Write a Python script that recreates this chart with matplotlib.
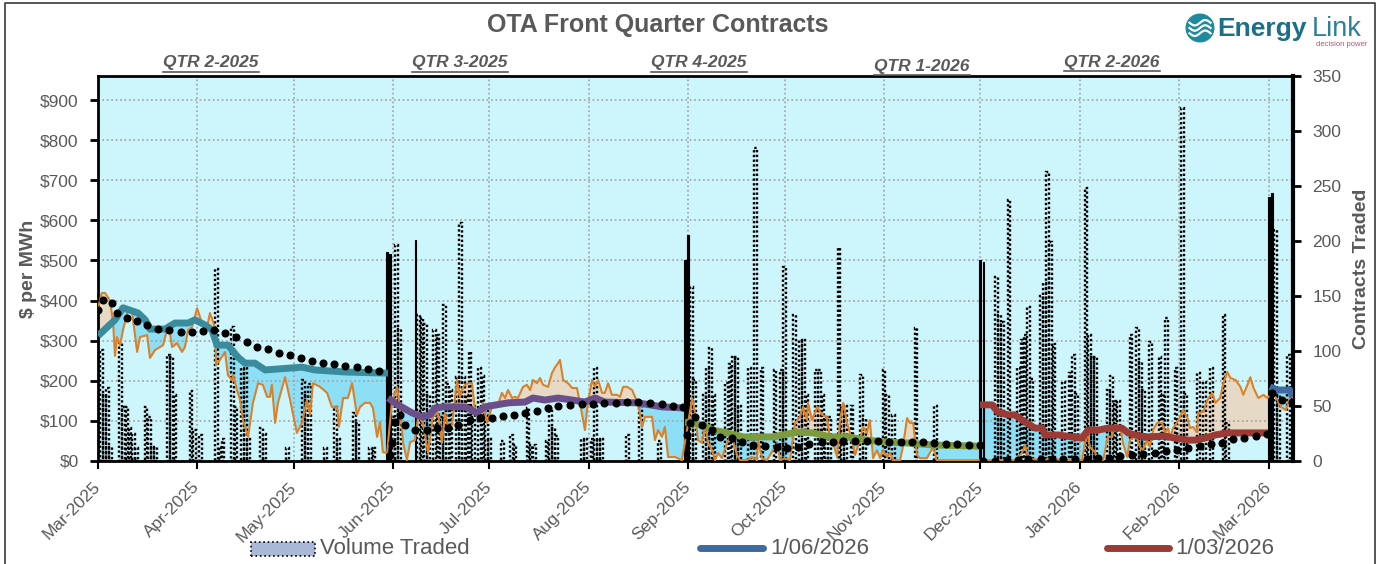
import numpy as np
import pandas as pd
import matplotlib
matplotlib.use('Agg')
import matplotlib.pyplot as plt
from matplotlib.patches import Rectangle, Circle
from matplotlib.lines import Line2D
from matplotlib import font_manager
from matplotlib.transforms import ScaledTranslation

W, H = 1381, 564
avail = {f.name for f in font_manager.fontManager.ttflist}
SANS = 'Liberation Sans' if 'Liberation Sans' in avail else 'DejaVu Sans'
NARROW = 'Liberation Sans Narrow' if 'Liberation Sans Narrow' in avail else SANS
GRAY = '#595959'

START = pd.Timestamp('2025-03-01')   # day 0 of all *_day arrays

# ---------------- data (day offsets from START, values) ----------------
# front-quarter settlement prices ($/MWh)
q2_25_day = [0, 5.3, 7.8, 12.5, 14.7, 16.2, 20.9, 24.0, 28.1, 30.2, 33.4, 35.5, 37.1, 40.5, 43.6, 45.8, 48.9, 52.1, 63.6, 67.6, 77.0, 90.4]
q2_25_val = [312, 352, 382, 369, 352, 329, 329, 344, 344, 352, 339, 327, 289, 289, 259, 244, 244, 227, 234, 227, 222, 219]
q3_25_day = [90.4, 93.5, 97.9, 101.0, 103.5, 105.0, 107.5, 114.4, 118.1, 120.6, 127.8, 133.1, 135.6, 139.3, 143.4, 147.8, 151.8, 154.9, 158.0, 168.3, 175.8, 183.0]
q3_25_val = [157, 140, 120, 110, 115, 132, 135, 135, 120, 135, 145, 147, 157, 152, 157, 152, 147, 157, 147, 145, 135, 132]
q4_25_day = [183.0, 185.5, 189.8, 191.7, 196.1, 201.1, 210.4, 213.5, 217.9, 222.9, 228.2, 233.5, 239.7, 246.0, 252.2, 260.3, 274.9]
q4_25_val = [97, 95, 85, 77, 70, 60, 60, 65, 72, 70, 60, 60, 52, 47, 45, 40, 37]
q1_26_day = [274.9, 278.7, 280.5, 283.7, 285.8, 289.0, 292.1, 294.3, 295.2, 299.3, 303.6, 306.7, 308.6, 311.7, 314.8, 319.2, 321.1, 323.3, 326.4, 332.6, 335.7, 339.8, 342.0, 345.1, 348.3, 352.2, 364.7]
q1_26_val = [140, 140, 122, 115, 115, 97, 82, 82, 65, 65, 60, 57, 77, 77, 82, 82, 70, 65, 60, 62, 57, 52, 52, 57, 65, 70, 70]
q2_26_day = [365.3, 367.5, 371.5, 372.5]
q2_26_val = [185, 177, 177, 160]

# daily spot price ($/MWh)
spot_day = [0.0, 1.2, 2.2, 3.7, 4.7, 5.3, 5.9, 6.9, 7.8, 9.4, 10.6, 12.2, 13.1, 15.3, 16.2, 17.8, 19.3, 20.3, 21.5, 22.4,
            23.1, 24.6, 26.2, 27.1, 28.1, 29.3, 30.9, 32.4, 34.0, 34.9, 36.5, 36.8, 38.0, 39.6, 40.5, 41.8, 42.1, 43.3, 44.3, 45.2,
            46.8, 48.3, 49.9, 51.4, 52.7, 53.6, 54.2, 55.2, 56.1, 58.3, 59.9, 62.0, 63.6, 65.1, 66.1, 67.0, 69.2, 71.4, 72.9, 74.5,
            75.1, 76.4, 77.9, 79.2, 80.7, 81.7, 83.2, 84.8, 85.7, 87.0, 87.9, 88.8, 90.1,
            91.6, 93.2, 94.1, 95.1, 96.3, 97.3, 98.8, 99.8, 101.3, 102.9, 104.4, 106.0, 107.2, 108.2, 109.1, 110.3, 111.9, 112.8,
            113.8, 115.3, 116.6, 117.5, 119.1, 120.0, 121.3, 122.8, 124.7, 125.9, 126.9, 127.8, 129.1, 130.0, 130.9, 132.5, 133.7,
            134.7, 135.6, 136.8, 137.8, 138.7, 140.3, 141.5, 142.5, 143.4, 144.0, 145.0, 146.5, 147.8, 149.3, 150.2, 151.8, 152.7,
            154.0, 154.9, 155.9, 157.1, 158.0, 159.0, 160.2, 161.8, 162.7, 163.7, 164.9, 166.5, 167.4, 168.3, 169.6, 170.5, 171.4,
            172.7, 173.6, 174.6, 175.8, 176.7, 177.7, 179.9, 182.0,
            183.6, 185.2, 186.1, 187.0, 188.3, 189.2, 190.1, 191.4, 192.3, 193.3, 194.5, 196.1, 197.0, 197.9, 199.2, 200.1, 202.3,
            203.9, 205.4, 205.7, 207.0, 208.5, 210.4, 211.7, 212.6, 214.1, 215.7, 217.3, 218.8, 219.8, 221.0, 221.3, 222.6, 224.2,
            225.7, 227.2, 228.2, 229.1, 230.4, 231.3, 232.3, 233.5, 234.4, 236.0, 237.5, 238.5, 239.7, 240.6, 241.6, 242.8, 243.8,
            244.7, 246.0, 246.9, 247.8, 250.0, 250.9, 252.2, 253.1, 254.1, 255.3, 256.2, 258.4, 260.3, 261.5, 264.7, 268.7, 272.8,
            275.6, 276.5, 285.8, 288.0, 289.0, 289.9, 294.3, 297.4, 300.5, 306.7, 308.3, 309.2, 310.8, 311.7, 313.3, 314.8, 316.1,
            317.0, 318.6, 319.5, 320.8, 321.7, 322.6, 323.9, 324.8, 325.7, 327.0, 327.9, 328.9, 330.1, 331.7, 332.6, 333.5, 334.2,
            335.1, 336.3, 337.3, 338.2, 339.5, 340.4, 341.3, 342.6, 342.9, 344.5, 345.8, 347.3, 348.3, 349.8, 350.8, 352.0, 353.0,
            354.6, 356.1, 357.0, 358.3, 359.2, 360.2, 361.7, 363.3, 364.5, 365.5, 366.5, 367.7, 368.7, 370.3, 371.8, 372.5]
spot_val = [381, 419, 419, 401, 347, 262, 309, 289, 327, 377, 372, 272, 309, 314, 257, 277, 284, 289, 327, 319,
            284, 294, 272, 284, 327, 334, 381, 344, 334, 369, 332, 239, 252, 272, 214, 202, 214, 177, 152, 102,
            60, 145, 194, 190, 160, 160, 190, 95, 145, 209, 152, 70, 95, 152, 115, 194, 185, 170, 135, 135,
            85, 157, 157, 194, 115, 135, 145, 145, 132, 60, 97, 22, 20,
            145, 185, 135, 45, 2, 47, 52, 110, 95, 20, 110, 120, 45, 120, 85, 85, 202, 160,
            185, 194, 194, 127, 120, 145, 95, 135, 140, 170, 157, 177, 157, 160, 157, 185, 190,
            177, 202, 194, 207, 190, 185, 219, 234, 244, 252, 202, 194, 182, 182, 145, 77, 145,
            202, 185, 202, 170, 170, 194, 165, 165, 160, 185, 185, 177, 160, 145, 85, 110, 110,
            110, 52, 77, 60, 85, 10, 10, 2,
            77, 157, 120, 52, 45, 95, 47, 27, 2, 20, 7, 45, 60, 52, 15, 2, 2,
            10, 2, 52, 7, 2, 27, 45, 2, 7, 2, 95, 110, 135, 102, 145, 102, 135,
            115, 110, 52, 45, 10, 102, 145, 95, 70, 15, 52, 85, 70, 102, 7, 27, 7,
            27, 10, 20, 2, 2, 35, 107, 95, 95, 15, 7, 7, 35, 2, 2, 2, 2,
            2, 2, 2, 20, 40, 7, 2, 7, 2, 2, 72, 35, 22, 2, 2, 60, 60,
            90, 85, 45, 10, 52, 60, 57, 35, 27, 52, 35, 77, 95, 95, 70, 82, 57,
            82, 95, 110, 127, 110, 82, 85, 72, 120, 122, 152, 170, 145, 157, 194, 222, 207,
            202, 185, 165, 190, 209, 182, 157, 165, 157, 165, 165, 152, 135, 127, 165, 157]

# running average of spot (dots)
trend_day = [0, 1.6, 4.4, 5.9, 9.0, 12.2, 15.3, 18.7, 22.1, 25.9, 29.3, 32.7, 36.2, 39.6, 43.0, 46.4, 49.6, 53.0, 56.4, 59.9,
             63.3, 66.7, 70.1, 73.6, 77.0, 80.7, 84.2, 87.6,
             91.0, 91.6, 92.6, 94.1, 95.7, 98.8, 102.6, 105.7, 109.1, 112.2, 116.0, 119.1, 122.8, 126.2, 129.7, 133.1, 136.8,
             140.3, 143.4, 147.1, 150.9, 154.3, 157.7, 161.5, 164.9, 168.3, 172.1, 175.8, 179.2, 182.4,
             183.6, 184.5, 186.1, 188.3, 191.4, 193.9, 197.6, 200.7, 204.2, 207.9, 211.7, 214.8, 218.2, 221.6, 225.7, 229.1,
             232.2, 236.0, 239.7, 243.1, 246.6, 250.3, 253.7, 257.2, 260.6, 264.3, 267.8, 271.5, 274.9,
             275.9, 279.6, 283.4, 286.8, 289.9, 293.9, 297.4, 300.8, 304.6, 308.3, 311.7, 315.1, 318.6, 322.3, 325.7, 329.5,
             332.9, 336.3, 339.8, 343.5, 346.9, 350.4, 353.8, 357.2, 361.0, 364.4,
             366.0, 369.1, 372.2]
trend_val = [377, 401, 394, 369, 357, 349, 339, 329, 327, 322, 322, 324, 327, 319, 309, 297, 284, 279, 269, 264,
             257, 249, 244, 242, 237, 234, 229, 224,
             15, 45, 97, 115, 90, 77, 77, 82, 82, 90, 102, 107, 107, 112, 115, 120, 125,
             132, 137, 140, 142, 142, 145, 145, 147, 147, 145, 142, 137, 135,
             65, 95, 110, 90, 77, 60, 57, 47, 40, 37, 35, 32, 35, 42, 47, 47,
             50, 50, 50, 50, 47, 47, 47, 47, 45, 42, 42, 40, 40,
             0, 0, 2, 2, 5, 5, 5, 5, 5, 5, 7, 7, 12, 15, 17, 20,
             25, 27, 32, 37, 42, 45, 55, 57, 62, 67,
             170, 152, 147]

# contracts traded per day
vol_day = [1, 2, 3, 4, 7, 8, 9, 10, 11, 12, 15, 16, 17, 18, 22, 23, 24, 29, 30, 32, 37, 38, 39, 42, 43, 45, 46, 47, 51, 52,
           59, 64, 65, 66, 71, 74, 75, 80, 81, 85, 86,
           92, 93, 94, 100, 101, 102, 103, 105, 106, 107, 108, 109, 110, 112, 113, 114, 115, 116, 117, 119, 120, 121, 122,
           126, 129, 130, 134, 135, 136, 140, 141, 142, 143, 151, 152, 154, 155, 156, 157, 165, 169, 175,
           185, 186, 189, 190, 191, 192, 196, 197, 198, 199, 200, 203, 205, 207, 211, 213, 214, 217, 219, 220, 221, 224, 225,
           226, 227, 228, 231, 232, 233, 235, 238, 239, 245, 246, 248, 255, 261,
           280, 281, 282, 284, 287, 288, 289, 290, 291, 294, 295, 296, 297, 298, 301, 303, 304, 305, 308, 309, 310, 311, 315,
           316, 317, 318, 322, 324, 325, 326, 328, 331, 332, 333, 336, 338, 339, 343, 345, 347, 351, 352,
           367, 368, 371]
vol_val = [101, 60, 66, 13, 107, 49, 49, 30, 25, 12, 49, 40, 13, 13, 96, 95, 60, 64, 28, 24, 175, 13, 20, 122, 49, 85, 85, 20, 30, 25,
           12, 74, 60, 70, 12, 49, 20, 44, 35, 12, 12,
           40, 196, 120, 133, 130, 125, 60, 119, 115, 40, 142, 70, 65, 76, 216, 76, 60, 99, 50, 85, 77, 50, 20,
           18, 24, 15, 48, 15, 15, 18, 48, 30, 23, 20, 20, 20, 85, 20, 20, 24, 52, 18,
           158, 74, 60, 85, 103, 60, 71, 88, 95, 95, 50, 85, 285, 85, 83, 83, 176, 133, 110, 110, 60, 83, 83,
           60, 40, 40, 194, 50, 50, 50, 78, 38, 83, 60, 42, 121, 50,
           167, 133, 126, 237, 85, 110, 115, 140, 75, 150, 162, 263, 199, 106, 72, 80, 96, 61, 248, 115, 95, 95, 65,
           77, 55, 55, 115, 121, 90, 65, 108, 95, 61, 130, 85, 321, 61, 80, 72, 85, 133, 35,
           210, 60, 96]
# first trading days of each new front quarter (solid bars)
first_day = [90, 91, 99, 183, 184, 275, 276, 365, 366]
first_val = [190, 188, 201, 183, 205, 183, 181, 240, 244]

quarters = ['QTR 2-2025', 'QTR 3-2025', 'QTR 4-2025', 'QTR 1-2026', 'QTR 2-2026']
legend_labels = ['Volume Traded', '1/06/2026', '1/03/2026']

# ---------------- figure ----------------
fig = plt.figure(figsize=(W / 100, H / 100), dpi=100)


def fx(x):
    return x / W


def fy(y):
    return 1 - y / H


# outer frame
fig.add_artist(Line2D([fx(5), fx(5), fx(1375), fx(1375)], [fy(600), fy(3), fy(3), fy(600)],
                      color='#3a3a3a', lw=1.2))

L, R, T, B = 98, 1293, 76, 461
ax = fig.add_axes([fx(L), fy(B), (R - L) / W, (B - T) / H])
ax.set_facecolor('#ccf5fc')
XMAX = 372.5
ax.set_xlim(0, XMAX)
ax.set_ylim(0, 960)

months = pd.date_range('2025-03-01', '2026-03-01', freq='MS')
mpos = [(m - START).days for m in months]
ax.set_xticks(mpos)
ax.set_xticklabels([m.strftime('%b-%Y') for m in months], rotation=45, ha='right', va='center',
                   rotation_mode='anchor', fontsize=12.5, color=GRAY, family=NARROW)
shift = ScaledTranslation(3 / 100, 0, fig.dpi_scale_trans)
for lab in ax.get_xticklabels():
    lab.set_transform(lab.get_transform() + shift)
ax.set_yticks(range(0, 1000, 100))
ax.set_yticklabels(['$%d' % v for v in range(0, 1000, 100)], fontsize=12.5, color=GRAY, family=SANS)
ax.tick_params(axis='x', length=6, width=1.5, pad=11, color='black')
ax.tick_params(axis='y', length=6, width=2, pad=8, color='black')
ax.grid(True, color='#a0a0a0', linestyle=':', linewidth=1.2)
for s in ax.spines.values():
    s.set_linewidth(2)
    s.set_color('black')
ax.spines['right'].set_visible(False)

segments = [(q2_25_day, q2_25_val, '#3a8c9c'), (q3_25_day, q3_25_val, '#6b4f8a'),
            (q4_25_day, q4_25_val, '#7c9a3e'), (q1_26_day, q1_26_val, '#9c3b36'),
            (q2_26_day, q2_26_val, '#3d6aa0')]
sd = np.array(spot_day, float)
sv = np.array(spot_val, float)
for d, v, c in segments:
    d = np.array(d, float)
    v = np.array(v, float)
    inside = sd[(sd >= d.min()) & (sd <= d.max())]
    xs = np.unique(np.concatenate([d, inside]))
    ti = np.interp(xs, d, v)
    si = np.interp(xs, sd, sv)
    ax.fill_between(xs, si, ti, where=ti >= si, interpolate=True, color='#8ddff5', lw=0, zorder=1)
    ax.fill_between(xs, si, ti, where=si > ti, interpolate=True, color='#e6dac6', lw=0, zorder=1)

ax.set_ylabel('$ per MWh', fontsize=14, fontweight='bold', color=GRAY, family=SANS, labelpad=2)

# volume on right axis
ax2 = ax.twinx()
ax2.set_ylim(0, 350)
ax2.bar(vol_day, vol_val, width=0.85, facecolor='none', edgecolor='black', linestyle=(0, (1, 1)),
        linewidth=1.7, zorder=2)
ax2.bar(first_day, first_val, width=0.55, facecolor='black', edgecolor='black', linewidth=0.8, zorder=2)
ax2.set_yticks(range(0, 400, 50))
ax2.set_yticklabels([str(v) for v in range(0, 400, 50)], fontsize=12.5, color=GRAY, family=SANS)
ax2.tick_params(axis='y', length=6, width=2, pad=8, color='black')
for k, s in ax2.spines.items():
    s.set_visible(k == 'right')
ax2.spines['right'].set_linewidth(3)
ax2.set_ylabel('Contracts Traded', fontsize=14, fontweight='bold', color=GRAY, family=SANS, labelpad=8)

# lines on top
ax3 = fig.add_axes([fx(L), fy(B), (R - L) / W, (B - T) / H], sharex=ax, sharey=ax)
ax3.axis('off')
ax3.patch.set_visible(False)
ax3.plot(spot_day, spot_val, color='#d9822b', lw=1.5, zorder=3)
for d, v, c in segments:
    ax3.plot(d, v, color=c, lw=5, solid_capstyle='butt', zorder=4)
ax3.plot(trend_day, trend_val, 'o', color='black', ms=4.8, zorder=5)
ax3.set_xlim(0, XMAX)
ax3.set_ylim(0, 960)

# title & quarter labels
fig.text(fx(658), fy(25), 'OTA Front Quarter Contracts', ha='center', va='center', fontsize=18,
         fontweight='bold', color=GRAY, family=SANS)
qpos = [(211, 63), (460, 63), (699, 63), (922, 66), (1112, 62)]
qtexts = []
for q, (x, y) in zip(quarters, qpos):
    qtexts.append(fig.text(fx(x), fy(y), q, ha='center', va='center', fontsize=12.5, fontweight='bold',
                           fontstyle='italic', color=GRAY, family=SANS))

# logo
lax = fig.add_axes([fx(1185), fy(43), 30 / W, 30 / H])
lax.set_xlim(-1, 1)
lax.set_ylim(-1, 1)
lax.set_aspect('equal')
lax.axis('off')
lax.add_patch(Circle((0, 0), 0.92, color='#1d8a9e'))
tt = np.linspace(-0.7, 0.7, 50)
for off in (0.35, 0.0, -0.35):
    lax.plot(tt, off + 0.18 * np.sin(tt * 4.5), color='white', lw=1.6)
fig.text(fx(1217), fy(29), 'Energy', ha='left', va='center', fontsize=19, fontweight='bold',
         color='#1b6f87', family=SANS)
fig.text(fx(1312), fy(29), 'Link', ha='left', va='center', fontsize=19.5, color='#2a7f99', family=SANS)
fig.text(fx(1367), fy(44), 'decision power', ha='right', va='center', fontsize=5.5, color='#c0506a', family=SANS)

# legend
fig.add_artist(Rectangle((fx(251), fy(556)), 64 / W, 14 / H, transform=fig.transFigure,
                         facecolor='#aab8d8', edgecolor='black', linestyle=':', linewidth=1.2))
fig.text(fx(320), fy(548), legend_labels[0], ha='left', va='center', fontsize=16, color=GRAY, family=NARROW)
fig.add_artist(Line2D([fx(700), fx(763)], [fy(548), fy(548)], color='#3d6aa0', lw=5, solid_capstyle='round'))
fig.text(fx(770), fy(548), legend_labels[1], ha='left', va='center', fontsize=16, color=GRAY, family=NARROW)
fig.add_artist(Line2D([fx(1107), fx(1169)], [fy(548), fy(548)], color='#9c3b36', lw=5, solid_capstyle='round'))
fig.text(fx(1175), fy(548), legend_labels[2], ha='left', va='center', fontsize=16, color=GRAY, family=NARROW)

# underline quarter labels
fig.canvas.draw()
rend = fig.canvas.get_renderer()
inv = fig.transFigure.inverted()
for t in qtexts:
    bb = t.get_window_extent(rend).transformed(inv)
    fig.add_artist(Line2D([bb.x0, bb.x1], [bb.y0 - 1.5 / H, bb.y0 - 1.5 / H], color=GRAY, lw=1.2))

fig.savefig('out.png', dpi=100)
